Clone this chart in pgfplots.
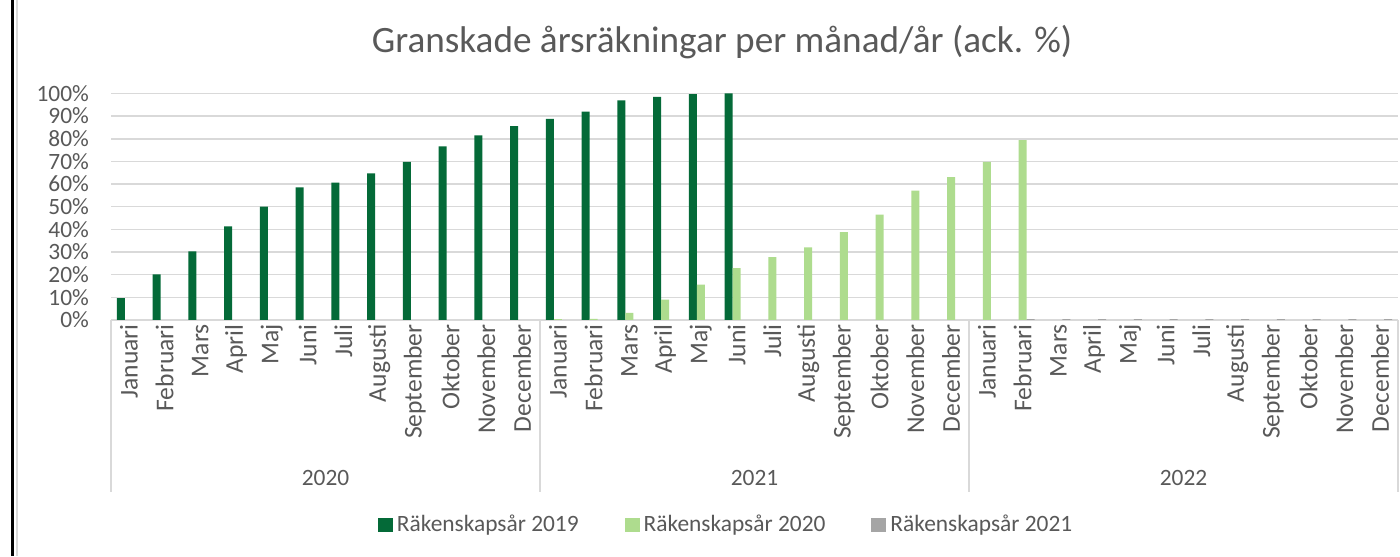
\documentclass[border=0pt]{standalone}
\usepackage{fontspec}
\setmainfont{Carlito}
\usepackage{pgfplots}
\pgfplotsset{compat=1.18}
\definecolor{dg}{RGB}{4,106,56}
\definecolor{lg}{RGB}{174,220,142}
\definecolor{gy}{RGB}{165,165,165}
\definecolor{txt}{RGB}{89,89,89}
\definecolor{gridc}{RGB}{217,217,217}
\newcommand{\lblfont}{\fontsize{11.7}{14}\selectfont}
\newcommand{\monfont}{\fontsize{12.8}{15}\selectfont}
\begin{document}
\begin{tikzpicture}[x=1pt,y=1pt]
\useasboundingbox (0,0) rectangle (700,278);
\fill[white] (0,0) rectangle (700,278);
\draw[black, line width=1.6pt] (6.3,0) -- (6.3,278);
\draw[gridc, line width=0.8pt] (8.6,0) -- (8.6,278);
\node[txt, font=\fontsize{18.6}{22}\selectfont] at (361,257) {Granskade årsräkningar per månad/år (ack. \%)};
\begin{axis}[
  at={(55.5pt,118pt)}, anchor=south west,
  scale only axis, width=643.5pt, height=113.3pt,
  xmin=-0.5, xmax=35.5, ymin=0, ymax=100,
  ybar=0pt, bar width=4pt,
  axis x line*=bottom, axis y line*=left,
  y axis line style={draw=none},
  x axis line style={draw=gridc, line width=0.8pt, -},
  major tick length=0pt,
  xtick={0,...,35},
  xticklabels={Januari,Februari,Mars,April,Maj,Juni,Juli,Augusti,September,Oktober,November,December,
               Januari,Februari,Mars,April,Maj,Juni,Juli,Augusti,September,Oktober,November,December,
               Januari,Februari,Mars,April,Maj,Juni,Juli,Augusti,September,Oktober,November,December},
  x tick label style={rotate=90, anchor=east, font=\monfont, text=txt, inner sep=2pt},
  ytick={0,10,...,100},
  yticklabels={0\%,10\%,20\%,30\%,40\%,50\%,60\%,70\%,80\%,90\%,100\%},
  y tick label style={font=\lblfont, text=txt, xshift=-7.5pt},
  ymajorgrids, grid style={draw=gridc, line width=0.8pt},
  clip=false,
  legend columns=3,
  legend style={at={(0.4787,-0.905)}, anchor=center, draw=none, fill=none,
    font=\lblfont, text=txt,
    /tikz/every even column/.append style={column sep=21pt}},
  legend image code/.code={\fill[#1] (0pt,-3.6pt) rectangle (7.5pt,3.6pt);},
]
\addplot[fill=dg, draw=none] coordinates {
 (0,9.6) (1,20.1) (2,30.3) (3,41.3) (4,50.0) (5,58.5) (6,60.6) (7,64.7) (8,69.8) (9,76.6) (10,81.5) (11,85.6)
 (12,88.8) (13,92.0) (14,96.9) (15,98.5) (16,99.7) (17,100)};
\addplot[fill=lg, draw=none] coordinates {
 (12,0.4) (13,0.5) (14,3.1) (15,9.0) (16,15.6) (17,22.9) (18,27.8) (19,32.1) (20,38.8) (21,46.5) (22,57.1) (23,63.1)
 (24,69.8) (25,79.4)};
\addplot[fill=gy, draw=none] coordinates {
 (25,0.4) (26,0.4) (27,0.4) (28,0.4) (29,0.4) (30,0.4) (31,0.4) (32,0.4) (33,0.4) (34,0.4) (35,0.4)};
\legend{Räkenskapsår 2019, Räkenskapsår 2020, Räkenskapsår 2021}
\draw[gridc, line width=0.8pt] (axis cs:-0.5,0) -- ++(0pt,-86pt);
\draw[gridc, line width=0.8pt] (axis cs:11.5,0) -- ++(0pt,-86pt);
\draw[gridc, line width=0.8pt] (axis cs:23.5,0) -- ++(0pt,-86pt);
\draw[gridc, line width=0.8pt] (axis cs:35.5,0) -- ++(0pt,-86pt);
\node[txt, font=\lblfont] at (axis cs:5.5,0) [yshift=-79pt] {2020};
\node[txt, font=\lblfont] at (axis cs:17.5,0) [yshift=-79pt] {2021};
\node[txt, font=\lblfont] at (axis cs:29.5,0) [yshift=-79pt] {2022};
\end{axis}
\end{tikzpicture}
\end{document}
